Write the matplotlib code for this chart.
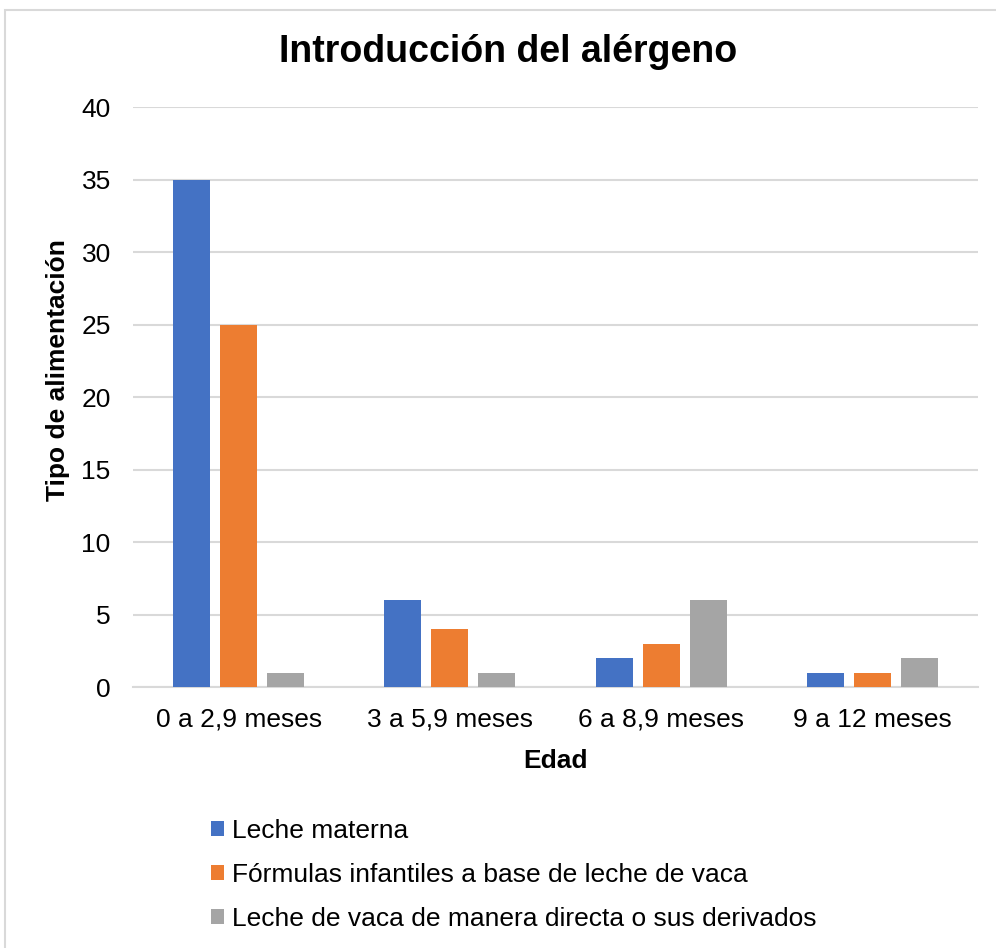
import numpy as np
import matplotlib.pyplot as plt
from matplotlib.patches import Rectangle

plt.rcParams['font.family'] = ['Liberation Sans', 'DejaVu Sans']

edades = ['0 a 2,9 meses', '3 a 5,9 meses', '6 a 8,9 meses', '9 a 12 meses']
leche_materna = [35, 6, 2, 1]
formulas = [25, 4, 3, 1]
leche_vaca = [1, 1, 6, 2]

series = [
    ('Leche materna', leche_materna, '#4472C4'),
    ('Fórmulas infantiles a base de leche de vaca', formulas, '#ED7D31'),
    ('Leche de vaca de manera directa o sus derivados', leche_vaca, '#A5A5A5'),
]

fig = plt.figure(figsize=(9.96, 9.48), dpi=100)
ax = fig.add_axes([0.1335, 0.2753, 0.8485, 0.6118])

# marco del grafico
fig.patches.append(Rectangle((5 / 996, -0.1), 1.2, 1 - 10 / 948 + 0.1,
                             transform=fig.transFigure, fill=False,
                             edgecolor='#d9d9d9', linewidth=1.5))

x = np.arange(len(edades))
ancho = 0.175
paso = 0.222
for i, (nombre, valores, color) in enumerate(series):
    ax.bar(x + (i - 1) * paso, valores, ancho, color=color, label=nombre,
           zorder=3)

ax.set_xlim(-0.5, len(edades) - 0.5)
ax.set_ylim(0, 40)
ax.set_yticks(range(0, 41, 5))
ax.set_xticks(x)
ax.set_xticklabels(edades)
ax.tick_params(axis='both', length=0, labelsize=19)
ax.tick_params(axis='y', pad=16)
ax.tick_params(axis='x', pad=15)
ax.grid(axis='y', color='#d9d9d9', linewidth=1.5, zorder=0)
for lado in ['top', 'right', 'left']:
    ax.spines[lado].set_visible(False)
ax.spines['bottom'].set_color('#d9d9d9')
ax.spines['bottom'].set_linewidth(1.5)

fig.text(0.51, 1 - 52 / 948, 'Introducción del alérgeno', fontsize=27,
         fontweight='bold', ha='center', va='center')
ax.set_ylabel('Tipo de alimentación', fontsize=19, fontweight='bold')
ax.yaxis.set_label_coords(-0.074, 0.547)
ax.set_xlabel('Edad', fontsize=19, fontweight='bold', labelpad=12)

fig.legend(loc='upper left', bbox_to_anchor=(200 / 996, 1 - 808 / 948),
           frameon=False, fontsize=19, handlelength=0.5, handleheight=0.5,
           handletextpad=0.3, labelspacing=0.76, borderaxespad=0)

fig.savefig('out.png', dpi=100)
